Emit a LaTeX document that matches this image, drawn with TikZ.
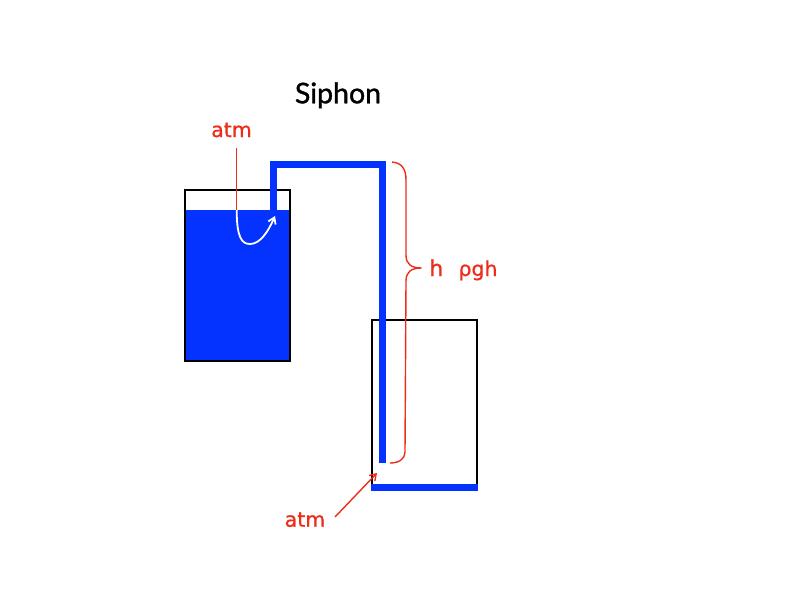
\documentclass[tikz,border=0pt]{standalone}
\usepackage{fontspec}
\setmainfont{DejaVu Sans}
\newfontfamily\titlefont[FakeBold=1.2]{Lato}
\newfontfamily\labfont[FakeBold=0.8]{DejaVu Sans}
\usetikzlibrary{arrows.meta}
\definecolor{tubeblue}{RGB}{4,51,255}
\definecolor{labred}{RGB}{235,45,25}
\tikzset{
  tank/.style={draw=black, line width=1.8pt},
  water/.style={fill=tubeblue, draw=none},
  tube/.style={draw=tubeblue, line width=7pt, miter limit=10},
  redlab/.style={text=labred, inner sep=0pt, anchor=base, font=\labfont\fontsize{20.5}{24}\selectfont},
  redline/.style={draw=labred, line width=1.4pt},
  flow/.style={draw=white, line width=1.8pt, -{Straight Barb[length=6pt,width=8pt]}},
}
\begin{document}
\begin{tikzpicture}[x=1pt,y=-1pt]
\useasboundingbox (0,0) rectangle (800,600);
% title
\node[inner sep=0pt, anchor=base, font=\titlefont\fontsize{28.5}{32}\selectfont] (title) at (338,103.3) {Siphon};
% left tank with water
\fill[water] (185,210) rectangle (290,361);
\draw[tank] (185,190) rectangle (290,361);
% right tank
\draw[tank] (372,320) rectangle (477,490);
\fill[water] (371.1,484) rectangle (477.9,491);
% tube
\coordinate (tin) at (273,212);
\coordinate (tl) at (273,164);
\coordinate (tr) at (382.5,164);
\coordinate (tout) at (382.5,463);
\draw[tube] (tin) -- (tl) -- (tr) -- (tout);
% top atm label with line and flow arrow
\node[redlab] (atmtop) at (231.5,137) {atm};
\coordinate (surf) at (236.7,210);
\draw[redline] (236.7,148) -- (surf);
\draw[flow] (surf) .. controls (236.7,238) and (242,244) .. (250,244)
  .. controls (260,244) and (268,232) .. (275,216);
% brace
\coordinate (btop) at (392,162);
\coordinate (btip) at (421.5,268);
\coordinate (bbot) at (390,463);
\draw[redline] (btop) .. controls (402,163) and (406,169) .. (406,180)
  -- (406,255) .. controls (406,264) and (411,268) .. (btip)
  .. controls (411,268) and (406,272) .. (406,281)
  -- (405,452) .. controls (405,459) and (399,463) .. (bbot);
\node[redlab, font=\labfont\fontsize{22}{26}\selectfont] (h) at (436.3,276) {h};
\node[redlab, font=\labfont\fontsize{20.5}{24}\selectfont] (rgh) at (478,276) {ρgh};
% bottom atm label with arrow
\node[redlab] (atmbot) at (305,526.7) {atm};
\coordinate (outlet) at (377,473);
\draw[redline, -{Straight Barb[length=6pt,width=8pt]}] (335,517) -- (outlet);
\end{tikzpicture}
\end{document}
